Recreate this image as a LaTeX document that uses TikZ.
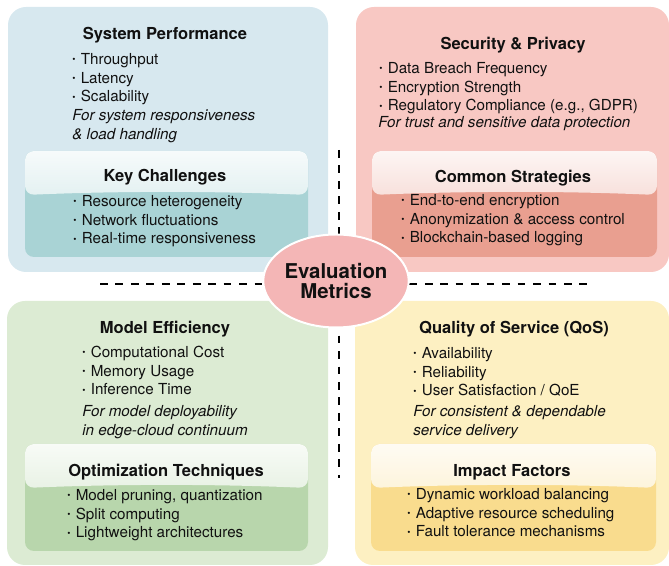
\documentclass[tikz,border=0pt]{standalone}
\usepackage{fontspec}
\setmainfont{TeX Gyre Heros}
\usetikzlibrary{shapes.geometric}
\definecolor{perfbg}{HTML}{D7E8EF}
\definecolor{perfin}{HTML}{A9D3D5}
\definecolor{secbg}{HTML}{F8C8C3}
\definecolor{secin}{HTML}{E99F90}
\definecolor{effbg}{HTML}{DCEBD3}
\definecolor{effin}{HTML}{B8D6AC}
\definecolor{qosbg}{HTML}{FDF0C2}
\definecolor{qosin}{HTML}{F9DC8E}
\definecolor{evalbg}{HTML}{F4B6B6}
\definecolor{ink}{HTML}{111111}
\newcommand{\itm}{\raisebox{.25ex}{\scalebox{.6}{\textbullet}}\hspace{4pt}}
\tikzset{
  panel/.style={rounded corners=13.5pt},
  gloss/.style={fill=#1, rounded corners=6.75pt, path picture={
    \shade[top color=white!90!#1, bottom color=white!38!#1]
      (path picture bounding box.north west) -- (path picture bounding box.north east)
      -- ([yshift=-33pt]path picture bounding box.north east)
      .. controls ([xshift=-70pt,yshift=-30pt]path picture bounding box.north east)
      and ([xshift=70pt,yshift=-30pt]path picture bounding box.north west)
      .. ([yshift=-33pt]path picture bounding box.north west) -- cycle;}},
  head/.style={anchor=base, inner sep=0, font=\fontsize{12.4}{14}\selectfont\bfseries, text=ink},
  % multi-line nodes: base is the last line
  items/.style={anchor=base west, inner sep=0, align=left, text=ink,
    font=\fontsize{11.4}{13.9}\selectfont},
  note/.style={items, font=\fontsize{11.4}{14.4}\selectfont\itshape},
  divider/.style={line width=1.9pt, dash pattern=on 5.8pt off 5.8pt}
}
\begin{document}
\begin{tikzpicture}[x=0.75pt, y=-0.75pt]
\useasboundingbox (0,0) rectangle (669,566);
% quadrant backgrounds
\fill[panel, perfbg] (8,7) rectangle (328,272);
\fill[panel, secbg] (356,7) rectangle (669,272);
\fill[panel, effbg] (7,301) rectangle (328,565);
\fill[panel, qosbg] (355,301) rectangle (669,565);
% inner boxes
\path[gloss=perfin] (25,151) rectangle (308,257);
\path[gloss=secin] (372,151) rectangle (657,257);
\path[gloss=effin] (25,444) rectangle (308,551);
\path[gloss=qosin] (371,444) rectangle (656,551);

% dashed dividers
\coordinate (hl) at (100,284);
\coordinate (hr) at (587,284);
\coordinate (vt) at (339,150);
\coordinate (vb) at (339,478);
\draw[divider] (hl) -- (hr);
\draw[divider] (vt) -- (vb);

\node[ellipse, fill=evalbg, draw=white, line width=1.5pt, minimum width=106.5pt,
  minimum height=69.75pt, inner sep=0, align=center, text=ink,
  font=\fontsize{15.3}{14.5}\selectfont\bfseries] (eval) at (336,281) {Evaluation\\Metrics};

% system performance
\node[head] (perf) at (165,40) {System Performance};
\node[items] (perflist) at (72,102) {\itm Throughput\\\itm Latency\\\itm Scalability};
\node[note] (perfnote) at (72,140) {For system responsiveness\\\& load handling};
\node[head] (chal) at (165,182) {Key Challenges};
\node[items] (challist) at (73,244) {\itm Resource heterogeneity\\\itm Network fluctuations\\\itm Real-time responsiveness};

% security
\node[head] (sec) at (513,50) {Security \& Privacy};
\node[items] (seclist) at (379,111) {\itm Data Breach Frequency\\\itm Encryption Strength\\\itm Regulatory Compliance (e.g., GDPR)};
\node[note] (secnote) at (378,128) {For trust and sensitive data protection};
\node[head] (strat) at (513,183) {Common Strategies};
\node[items] (stratlist) at (401,243) {\itm End-to-end encryption\\\itm Anonymization \& access control\\\itm Blockchain-based logging};

% model efficiency
\node[head] (eff) at (165,334) {Model Efficiency};
\node[items] (efflist) at (82,395) {\itm Computational Cost\\\itm Memory Usage\\\itm Inference Time};
\node[note] (effnote) at (82,436) {For model deployability\\in edge-cloud continuum};
\node[head] (opt) at (166,477) {Optimization Techniques};
\node[items] (optlist) at (67,538) {\itm Model pruning, quantization\\\itm Split computing\\\itm Lightweight architectures};

% quality of service
\node[head] (qos) at (514,334) {Quality of Service (QoS)};
\node[items] (qoslist) at (413,396) {\itm Availability\\\itm Reliability\\\itm User Satisfaction / QoE};
\node[note] (qosnote) at (413,436) {For consistent \& dependable\\service delivery};
\node[head] (fact) at (512,477) {Impact Factors};
\node[items] (factlist) at (407,537) {\itm Dynamic workload balancing\\\itm Adaptive resource scheduling\\\itm Fault tolerance mechanisms};
\end{tikzpicture}
\end{document}
